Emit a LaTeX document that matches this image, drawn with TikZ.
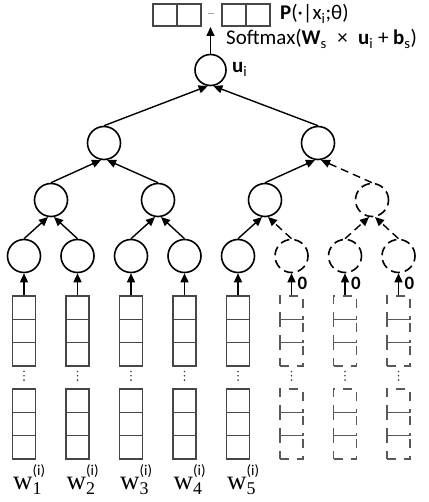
\documentclass[tikz,border=0pt]{standalone}
\usepackage{fontspec}
\setmainfont{Carlito}
\newfontfamily\serifw{Liberation Serif}
\usetikzlibrary{arrows.meta}
\newcommand\wlab[1]{{\serifw w}\rlap{\raisebox{-5bp}{\fontsize{18}{19}\selectfont\serifw #1}}\raisebox{13.5bp}{\fontsize{15}{16}\selectfont (i)}}
\begin{document}
\begin{tikzpicture}[x=1bp,y=-1bp,
  neuron/.style={circle,draw,line width=1.6bp,minimum size=33bp,inner sep=0pt},
  dneuron/.style={neuron,dash pattern=on 9bp off 5bp},
  edge/.style={line width=1.4bp,-{Triangle[length=9bp,width=8bp]}},
  dedge/.style={edge,dash pattern=on 8bp off 5bp},
  cell/.style={draw=black!72,line width=1.5bp,minimum width=23bp,minimum height=23.3bp,inner sep=0pt},
  dcell/.style={cell,draw=black!65,dash pattern=on 9bp off 8bp},
  tcell/.style={cell,minimum width=24bp,minimum height=22bp},
  vdot/.style={fill=black!75},
  lab/.style={font=\fontsize{21}{23}\selectfont,inner sep=0pt},
  zlab/.style={font=\fontsize{19}{20}\selectfont\bfseries,inner sep=0pt},
  wl/.style={font=\fontsize{27}{30}\selectfont,inner sep=0pt,anchor=base west}
]
\useasboundingbox (0,0) rectangle (428,502);
% leaves
\foreach \i/\x in {1/24,2/77.5,3/131,4/184.5,5/238}{
  \node[neuron] (l\i) at (\x,256) {};
  \node[cell] (c\i a) at (\x,307.65) {};
  \node[cell] (c\i b) at (\x,330.95) {};
  \node[cell] (c\i c) at (\x,354.25) {};
  \foreach \yy in {371.5,375.8,380.1} \fill[vdot] (\x,\yy) circle (0.9);
  \node[cell] (c\i d) at (\x,400.65) {};
  \node[cell] (c\i e) at (\x,423.95) {};
  \node[cell] (c\i f) at (\x,447.25) {};
  \draw[edge] (c\i a.north) -- (l\i.south);
  \node[wl] (w\i) at (\x-11,489) {\wlab{\i}};
}
\foreach \i/\x in {6/291.5,7/345,8/398.5}{
  \node[dneuron] (l\i) at (\x,256) {};
  \node[dcell] (c\i a) at (\x,307.65) {};
  \node[dcell] (c\i b) at (\x,330.95) {};
  \node[dcell] (c\i c) at (\x,354.25) {};
  \foreach \yy in {371.5,375.8,380.1} \fill[vdot] (\x,\yy) circle (0.9);
  \node[dcell] (c\i d) at (\x,400.65) {};
  \node[dcell] (c\i e) at (\x,423.95) {};
  \node[dcell] (c\i f) at (\x,447.25) {};
  \draw[edge] (c\i a.north) -- (l\i.south);
  \node[zlab,anchor=west] (z\i) at (\x+6,283) {0};
}
% level 1
\node[neuron] (m1) at (51,200) {};
\node[neuron] (m2) at (158,200) {};
\node[neuron] (m3) at (265,200) {};
\node[dneuron] (m4) at (372,200) {};
% level 2
\node[neuron] (n1) at (104,143) {};
\node[neuron] (n2) at (318,143) {};
% root
\node[neuron,minimum size=31bp] (r) at (210.5,70) {};
% edges
\draw[edge] (l1.north) -- (m1.-100);
\draw[edge] (l2.north) -- (m1.-80);
\draw[edge] (l3.north) -- (m2.-100);
\draw[edge] (l4.north) -- (m2.-80);
\draw[edge] (l5.north) -- (m3.-100);
\draw[dedge] (l6.north) -- (m3.-80);
\draw[dedge] (l7.north) -- (m4.-100);
\draw[dedge] (l8.north) -- (m4.-80);
\draw[edge] (m1.north) -- (n1.-100);
\draw[edge] (m2.north) -- (n1.-80);
\draw[edge] (m3.north) -- (n2.-100);
\draw[dedge] (m4.north) -- (n2.-80);
\draw[edge] (n1.north) -- (r.-100);
\draw[edge] (n2.north) -- (r.-80);
% top
\node[tcell] (t1) at (165,15) {};
\node[tcell] (t2) at (189,15) {};
\node[tcell] (t3) at (234,15) {};
\node[tcell] (t4) at (258,15) {};
\node[inner sep=0pt,font=\fontsize{8}{9}\selectfont] (td) at (211,14.5) {…};
\coordinate (ptop) at (210.5,27);
\draw[edge] (r.north) -- (ptop);
\node[lab,anchor=base west] (pl) at (280,20) {\textbf{P}(·|x\textsubscript{i};θ)};
\node[lab,anchor=base west] (sl) at (226,45) {Softmax(\textbf{W}\textsubscript{s}\enspace×\enspace\textbf{u}\textsubscript{i} + \textbf{b}\textsubscript{s})};
\node[lab,anchor=base west] (ul) at (232,73) {\textbf{u}\textsubscript{i}};
\end{tikzpicture}
\end{document}
